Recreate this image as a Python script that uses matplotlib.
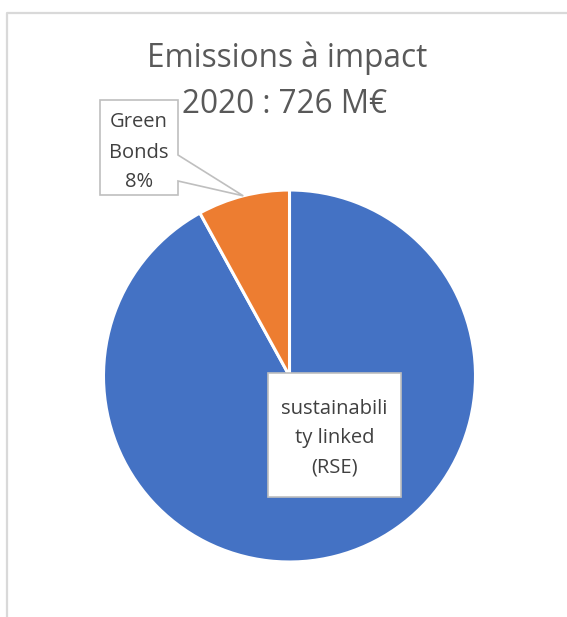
import matplotlib
matplotlib.use("Agg")
import matplotlib.pyplot as plt
from matplotlib.patches import Polygon
import numpy as np

# Data
categories = ["sustainability linked (RSE)", "Green Bonds"]
shares = [92, 8]
colors = ["#4472C4", "#ED7D31"]
title_lines = ["Emissions à impact", "2020 : 726 M€"]
label_lines = [["sustainabili", "ty linked", "(RSE)"], ["Green", "Bonds", "8%"]]

W, H = 567, 617
plt.rcParams["font.family"] = ["Open Sans", "DejaVu Sans"]

fig = plt.figure(figsize=(W / 100, H / 100), dpi=100)
ax = fig.add_axes([0, 0, 1, 1])


def py(y):
    """Convert a top-down pixel row into the axes' y coordinate."""
    return H - y


center = (289.5, py(376))
radius = 186
wedges, _ = ax.pie(shares, colors=colors, startangle=90, counterclock=False,
                   center=center, radius=radius,
                   wedgeprops=dict(edgecolor="white", linewidth=2.2))
ax.set_xlim(0, W)
ax.set_ylim(0, H)
ax.set_aspect("equal")
ax.set_axis_off()

# Chart-area frame (left and top edges)
ax.plot([7, 7, W], [0, py(12.5), py(12.5)], color="#d9d9d9", lw=1.6,
        solid_capstyle="butt")

# Title
title_color = "#595959"
ax.text(287, py(67), title_lines[0], ha="center", va="baseline",
        fontsize=22.7, color=title_color)
ax.text(285, py(113), title_lines[1], ha="center", va="baseline",
        fontsize=22.7, color=title_color)

label_color = "#404040"
edge_color = "#bfbfbf"
label_size = 14.5


def stacked_text(xc, baselines, lines):
    for yb, s in zip(baselines, lines):
        ax.text(xc, py(yb), s, ha="center", va="baseline",
                fontsize=label_size, color=label_color, zorder=4)


# Label for the large slice: plain box over the slice
x0, y0, x1, y1 = 268, 373, 401, 497
ax.add_patch(Polygon([(x0, py(y0)), (x1, py(y0)), (x1, py(y1)), (x0, py(y1))],
                     closed=True, facecolor="white", edgecolor=edge_color,
                     lw=1.2, zorder=3))
stacked_text((x0 + x1) / 2, [414, 443, 472], label_lines[0])

# Label for the small slice: callout box pointing at the wedge's outer arc
w = wedges[1]
mid = np.deg2rad((w.theta1 + w.theta2) / 2)
tip = (center[0] + radius * np.cos(mid), center[1] + radius * np.sin(mid))
bx0, by0, bx1, by1 = 100, 100, 178, 195
callout = [(bx0, py(by0)), (bx1, py(by0)), (bx1, py(155)), tip,
           (bx1, py(181)), (bx1, py(by1)), (bx0, py(by1))]
ax.add_patch(Polygon(callout, closed=True, facecolor="white",
                     edgecolor=edge_color, lw=1.2, zorder=3))
stacked_text((bx0 + bx1) / 2, [127, 158, 187], label_lines[1])

fig.savefig("out.png", dpi=100, facecolor="white")
